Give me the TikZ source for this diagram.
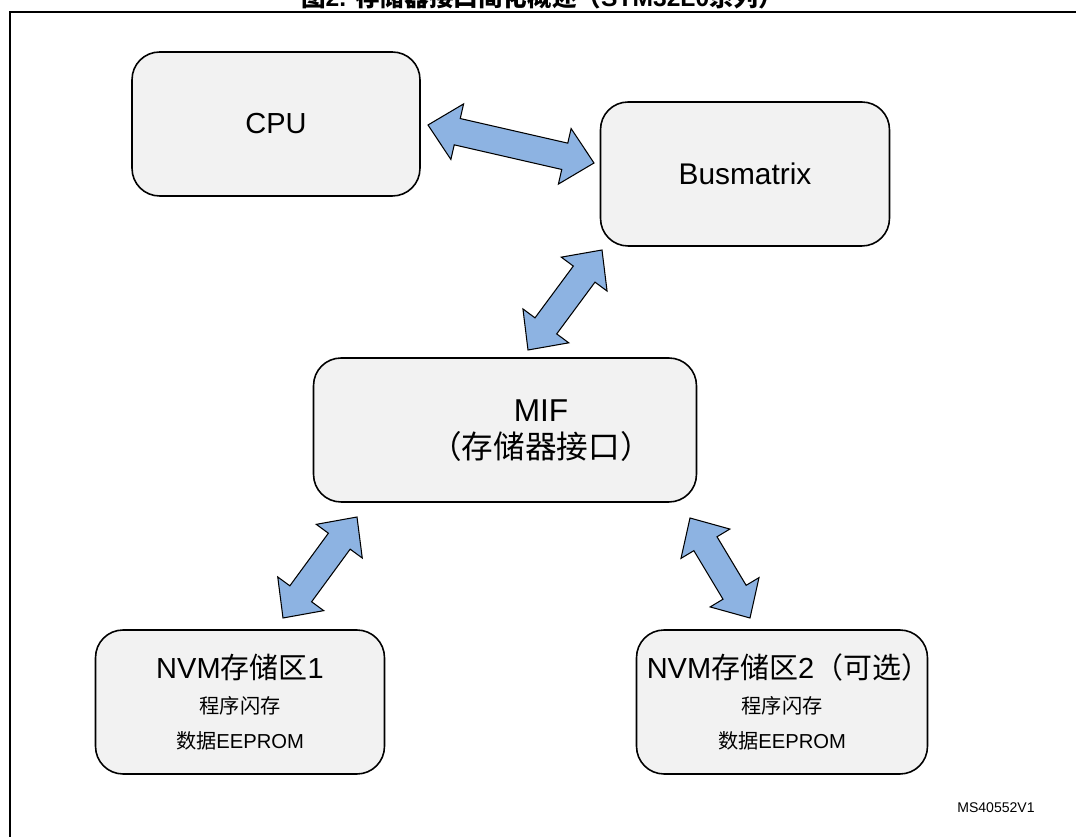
\documentclass[tikz,border=0pt]{standalone}
\usepackage{fontspec}
\setmainfont{Liberation Sans}
\newfontfamily\cjk{Noto Sans CJK SC}
\usepackage{tikz}
\usetikzlibrary{calc}
\definecolor{boxgray}{HTML}{F2F2F2}
\definecolor{arrowblue}{HTML}{8DB3E2}
\tikzset{
  blk/.style={draw, line width=0.9pt, fill=boxgray, rounded corners=0.55cm,
    align=center, inner sep=0pt, minimum height=2.88cm},
  fat/.style={draw, line width=0.6pt, fill=arrowblue, line join=miter},
  big/.style={font=\fontsize{16.5}{21}\selectfont},
  small/.style={font=\fontsize{11.5}{20}\selectfont}
}
\newcommand{\fatarrow}[2]{%
  \coordinate (fa1) at ($(#1)!0.6cm!(#2)$);
  \coordinate (fa2) at ($(#2)!0.6cm!(#1)$);
  \filldraw[fat] (#1) -- ($(fa1)!0.57cm!90:(#2)$) -- ($(fa1)!0.27cm!90:(#2)$)
    -- ($(fa2)!0.27cm!-90:(#1)$) -- ($(fa2)!0.57cm!-90:(#1)$) -- (#2)
    -- ($(fa2)!0.57cm!90:(#1)$) -- ($(fa2)!0.27cm!90:(#1)$)
    -- ($(fa1)!0.27cm!-90:(#2)$) -- ($(fa1)!0.57cm!-90:(#2)$) -- cycle;}

\begin{document}
\begin{tikzpicture}[x=0.02cm, y=-0.02cm]
  \useasboundingbox (0,0) rectangle (1076,837);
  \draw[line width=1.2pt] (10,900) |- (1150,12);
  \node[font=\bfseries\fontsize{14}{16}\selectfont] at (542,-3) (title)
    {{\cjk 图}2. {\cjk 存储器接口简化概述（}STM32L0{\cjk 系列）}};

  \node[blk, big, minimum width=5.76cm]  at (276,124) (cpu) {CPU};
  \node[blk, font=\fontsize{17}{21}\selectfont, minimum width=5.78cm] at (745,174) (bus) {Busmatrix};
  \node[blk, minimum width=7.66cm]  at (505,430) (mif) {};
  \node[font=\fontsize{18}{21}\selectfont, align=center] at (541,431) (miflbl)
    {MIF\\{\cjk （存储器接口）}};
  \node[blk, small, minimum width=5.78cm] at (240,702) (nvma)
    {{\fontsize{16.5}{20}\selectfont NVM{\cjk 存储区}1}\\{\cjk 程序闪存}\\{\cjk 数据}EEPROM};
  \node[blk, small, minimum width=5.82cm] at (782,702) (nvmb)
    {{\fontsize{16.5}{20}\selectfont NVM{\cjk 存储区}2{\cjk （可选）}\kern-0.45em}\\{\cjk 程序闪存}\\{\cjk 数据}EEPROM};
  \node[font=\fontsize{8}{10}\selectfont] at (996,808) (ref) {MS40552V1};

  \coordinate (cpuE)  at (428,125);
  \coordinate (busW)  at (594,163);
  \coordinate (busS)  at (602,250);
  \coordinate (mifN)  at (528,350);
  \coordinate (mifSW) at (357,517);
  \coordinate (nvmaN) at (283,618);
  \coordinate (mifSE) at (690,518);
  \coordinate (nvmbN) at (750,618);

  \fatarrow{cpuE}{busW}
  \fatarrow{busS}{mifN}
  \fatarrow{mifSW}{nvmaN}
  \fatarrow{mifSE}{nvmbN}
\end{tikzpicture}
\end{document}
